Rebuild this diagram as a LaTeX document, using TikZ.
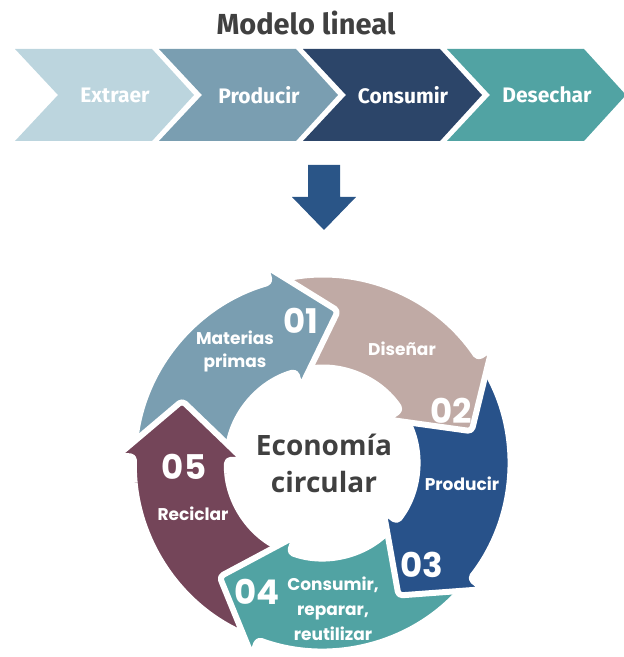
\documentclass[tikz,border=0pt]{standalone}
\usepackage{fontspec}
\setmainfont{Fira Sans}
\newfontfamily\ringfont{Poppins}
\newfontfamily\hubfont{Open Sans}

\definecolor{extr}{HTML}{BCD5DE}
\definecolor{prod}{HTML}{7A9EB1}
\definecolor{cons}{HTML}{2C4569}
\definecolor{dese}{HTML}{51A3A3}
\definecolor{downblue}{HTML}{2A5587}
\definecolor{dise}{HTML}{C0AAA5}
\definecolor{navy}{HTML}{28528A}
\definecolor{plum}{HTML}{744559}
\definecolor{ink}{HTML}{404040}

\tikzset{
	linlabel/.style={text=white, inner sep=0pt, font=\bfseries\fontsize{21}{24}\selectfont},
	ringpart/.style={draw=white, line width=6pt, rounded corners=4pt, line join=round},
	num/.style={text=white, inner sep=0pt, font=\ringfont\bfseries\fontsize{34}{34}\selectfont},
	ringlabel/.style={text=white, inner sep=0pt, align=center, font=\ringfont\bfseries\fontsize{17}{23}\selectfont},
}

% color, tail angle, head base angle, tip angle
\newcommand{\ringarrow}[4]{%
	\filldraw[ringpart, fill=#1] (#2:188pt) arc[start angle=#2, end angle=#3, radius=188pt]
		-- (#3:205pt) -- (#4:153pt) -- (#3:78pt) -- (#3:95pt)
		arc[start angle=#3, end angle=#2, radius=95pt] -- cycle;
}

\begin{document}
\begin{tikzpicture}[x=1pt, y=1pt]
	\useasboundingbox (0,0) rectangle (624,657);

	\node[text=ink, inner sep=0pt, font=\bfseries\fontsize{29}{32}\selectfont] (title) at (306,634) {Modelo lineal};

	\foreach \i/\col/\txt in {0/extr/Extraer, 1/prod/Producir, 2/cons/Consumir, 3/dese/Desechar} {
		\pgfmathsetmacro\xa{15+144*\i}
		\fill[\col] (\xa,608) -- (\xa+137,608) -- (\xa+179,562) -- (\xa+137,516) -- (\xa,516) -- (\xa+43,562) -- cycle;
		\node[linlabel] (lin\i) at (\xa+100,562) {\txt};
	}

	\fill[downblue] (308,492) -- (340,492) -- (340,460) -- (356,460) -- (324,427) -- (292,460) -- (308,460) -- cycle;

	\begin{scope}[shift={(322,194)}]
		\ringarrow{plum}{-114}{-182}{-204}
		\ringarrow{dese}{-42}{-110}{-132}
		\ringarrow{navy}{30}{-38}{-60}
		\ringarrow{dise}{102}{34}{12}
		\ringarrow{prod}{174}{106}{84}
		\begin{scope}
			\clip (0,0) -- (-212:240pt) arc[start angle=-212, end angle=-174, radius=240pt] -- cycle;
			\ringarrow{plum}{-114}{-182}{-204}
		\end{scope}
	\end{scope}

	\node[text=ink, inner sep=0pt, align=center, font=\hubfont\bfseries\fontsize{28}{37}\selectfont] (hub) at (324,194) {Economía\\circular};

	\node[num] (n1) at (301,336) {01};
	\node[ringlabel] (materias) at (235,306) {Materias\\primas};
	\node[ringlabel] (disenar) at (402,308) {Diseñar};
	\node[num] (n2) at (451,246) {02};
	\node[ringlabel] (producir) at (462,173) {Producir};
	\node[num] (n3) at (422,92) {03};
	\node[num] (n4) at (257,65) {04};
	\node[ringlabel, font=\ringfont\bfseries\fontsize{17}{25}\selectfont] (consumir) at (333,48) {Consumir,\\reparar,\\reutilizar};
	\node[num] (n5) at (184,190) {05};
	\node[ringlabel] (reciclar) at (193,143) {Reciclar};
\end{tikzpicture}
\end{document}
